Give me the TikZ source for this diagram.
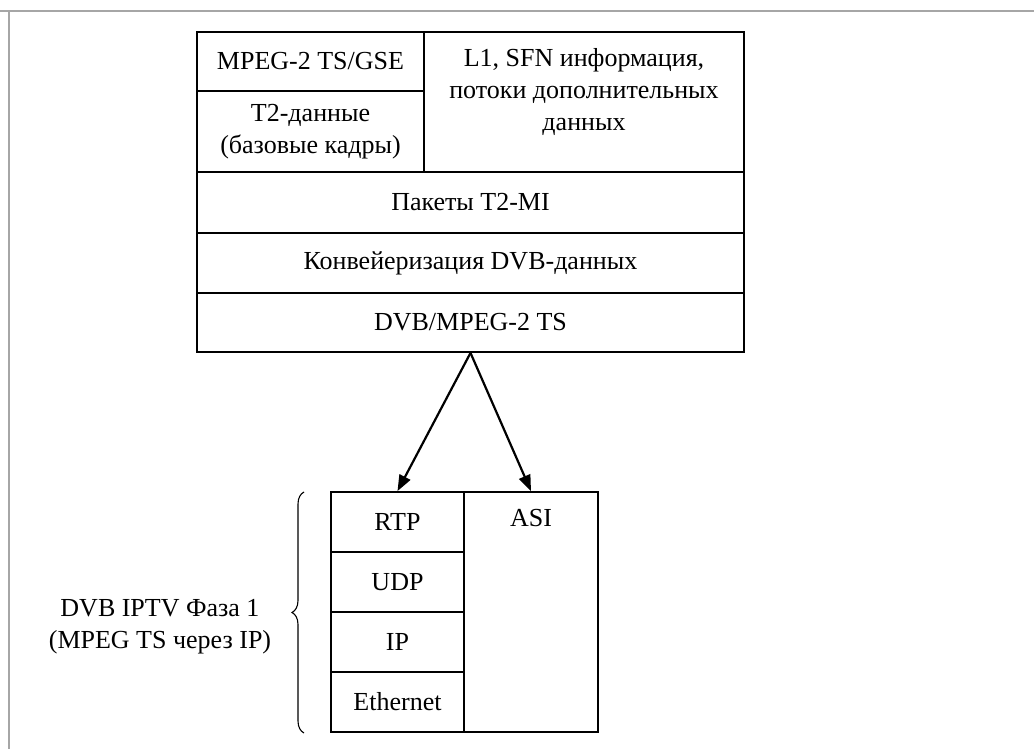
\documentclass[tikz,border=0pt]{standalone}
\usepackage{fontspec}
\setmainfont{Liberation Serif}
\usetikzlibrary{arrows.meta,decorations.pathreplacing}

\begin{document}
\begin{tikzpicture}[x=1pt,y=-1pt,
        cell/.style={draw, line width=1.8pt, inner sep=0pt, align=center},
        conn/.style={line width=2.2pt, -{Triangle[length=16pt,width=12pt]}},
        bracket/.style={decorate, decoration={brace, amplitude=12pt}, line width=1.1pt},
        frame/.style={gray!70, line width=2.2pt}]
        \fontsize{26}{32}\selectfont
        \def\lw{547}
        \def\cx{470.5}
        \useasboundingbox (0,0) rectangle (1034,749);

        % outer frame
        \draw[frame] (0,11) -- (1034,11);
        \draw[frame] (9,11) -- (9,749);

        % upper stack
        \node[cell, minimum width=227pt, minimum height=59pt] (gse) at (310.5,61.5) {MPEG-2 TS/GSE};
        \node[cell, minimum width=227pt, minimum height=81pt] (t2d) at (310.5,131.5) {T2-данные\\(базовые кадры)};
        \node[cell, minimum width=320pt, minimum height=140pt] (sfn) at (584,102) {};
        \node[align=center] (sfntxt) at (584,92) {L1, SFN информация,\\потоки дополнительных\\данных};
        \node[cell, minimum width=\lw pt, minimum height=61pt] (t2mi) at (\cx,202.5) {Пакеты T2-MI};
        \node[cell, minimum width=\lw pt, minimum height=60pt] (conv) at (\cx,263) {Конвейеризация DVB-данных};
        \node[cell, minimum width=\lw pt, minimum height=59pt] (ts) at (\cx,322.5) {DVB/MPEG-2 TS};

        % lower stack
        \foreach \name/\txt [count=\i from 0] in {rtp/RTP, udp/UDP, ip/IP, eth/Ethernet} {
            \node[cell, minimum width=133pt, minimum height=60pt] (\name) at (397.5,{522+60*\i}) {\txt};
        }
        \node[cell, minimum width=134pt, minimum height=240pt] (asi) at (531,612) {};
        \node (asitxt) at (531,518) {ASI};

        \draw[conn] (ts.south) -- (rtp.north);
        \draw[conn] (ts.south) -- (asi.north);

        \coordinate (bt) at (304,492);
        \coordinate (bb) at (304,733);
        \draw[bracket] (bb) -- (bt);
        \node[align=center] (phase) at (160,627) {DVB IPTV Фаза 1\\(MPEG TS через IP)};
    \end{tikzpicture}
\end{document}
